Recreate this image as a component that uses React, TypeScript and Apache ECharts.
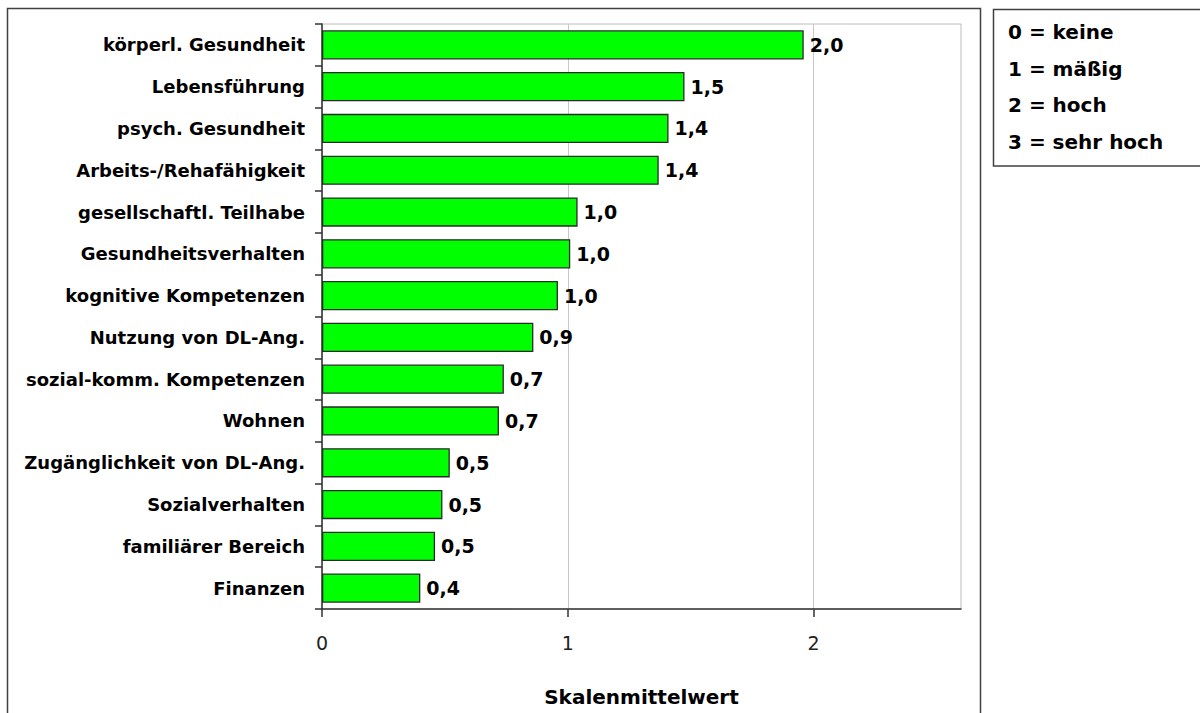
import React, { useEffect, useRef } from "react";
import * as echarts from "echarts";

const categories = [
  "körperl. Gesundheit",
  "Lebensführung",
  "psych. Gesundheit",
  "Arbeits-/Rehafähigkeit",
  "gesellschaftl. Teilhabe",
  "Gesundheitsverhalten",
  "kognitive Kompetenzen",
  "Nutzung von DL-Ang.",
  "sozial-komm. Kompetenzen",
  "Wohnen",
  "Zugänglichkeit von DL-Ang.",
  "Sozialverhalten",
  "familiärer Bereich",
  "Finanzen",
];

const values = [1.96, 1.475, 1.41, 1.37, 1.04, 1.01, 0.96, 0.86, 0.74, 0.72, 0.52, 0.49, 0.46, 0.4];

const xTicks = [0, 1, 2];

const legendLines = ["0 = keine", "1 = mäßig", "2 = hoch", "3 = sehr hoch"];

const axisName = "Skalenmittelwert";

const FONT = "DejaVu Sans";

export default function App() {
  const ref = useRef<HTMLDivElement>(null);

  useEffect(() => {
    if (!ref.current) return;
    const chart = echarts.init(ref.current, undefined, { renderer: "svg" });

    const legendGraphics: any[] = legendLines.map((t, i) => ({
      type: "text",
      left: 1008,
      top: 34 + i * 36.7 - 12,
      style: {
        text: t,
        fill: "#000",
        font: `bold 20px "${FONT}"`,
      },
    }));

    chart.setOption({
      animation: false,
      backgroundColor: "#fff",
      grid: {
        left: 322,
        top: 24,
        right: 239,
        bottom: 104,
        show: true,
        borderColor: "#bcbcbc",
        borderWidth: 1,
        backgroundColor: "transparent",
      },
      xAxis: {
        type: "value",
        min: 0,
        max: 2.6,
        interval: 1,
        name: axisName,
        nameLocation: "middle",
        nameGap: 78,
        nameTextStyle: {
          fontFamily: FONT,
          fontWeight: "bold",
          fontSize: 20,
          color: "#000",
        },
        axisLine: { show: true, lineStyle: { color: "#333", width: 1.5 } },
        axisTick: {
          show: true,
          length: 8,
          customValues: xTicks,
          lineStyle: { color: "#333", width: 1.5 },
        },
        axisLabel: {
          customValues: xTicks,
          margin: 24,
          fontFamily: FONT,
          fontSize: 19,
          color: "#222",
        },
        splitLine: { show: true, lineStyle: { color: "#c8c8c8", width: 1 } },
      },
      yAxis: {
        type: "category",
        data: categories,
        inverse: true,
        axisLine: { show: true, lineStyle: { color: "#333", width: 1.5 } },
        axisTick: { show: true, length: 7, lineStyle: { color: "#333", width: 1.5 } },
        axisLabel: {
          margin: 17,
          fontFamily: FONT,
          fontWeight: "bold",
          fontSize: 18,
          color: "#000",
        },
        splitLine: { show: false },
      },
      series: [
        {
          type: "bar",
          data: values,
          barCategoryGap: "30%",
          itemStyle: {
            color: "#00ff00",
            borderColor: "#2a2a2a",
            borderWidth: 1.3,
          },
          label: {
            show: true,
            position: "right",
            distance: 6,
            fontFamily: FONT,
            fontWeight: "bold",
            fontSize: 19,
            color: "#000",
            formatter: (p: any) => Number(p.value).toFixed(1).replace(".", ","),
          },
        },
      ],
      graphic: [
        {
          type: "rect",
          shape: { x: 7.5, y: 8.5, width: 973, height: 720 },
          style: { fill: "none", stroke: "#404040", lineWidth: 1.5 },
          silent: true,
        },
        {
          type: "rect",
          shape: { x: 993.5, y: 9.5, width: 215, height: 156.5 },
          style: { fill: "#fff", stroke: "#404040", lineWidth: 1.5 },
          silent: true,
        },
        ...legendGraphics,
      ],
    });

    return () => chart.dispose();
  }, []);

  return (
    <div
      ref={ref}
      style={{ position: "fixed", left: 0, top: 0, width: 1200, height: 713 }}
    />
  );
}
